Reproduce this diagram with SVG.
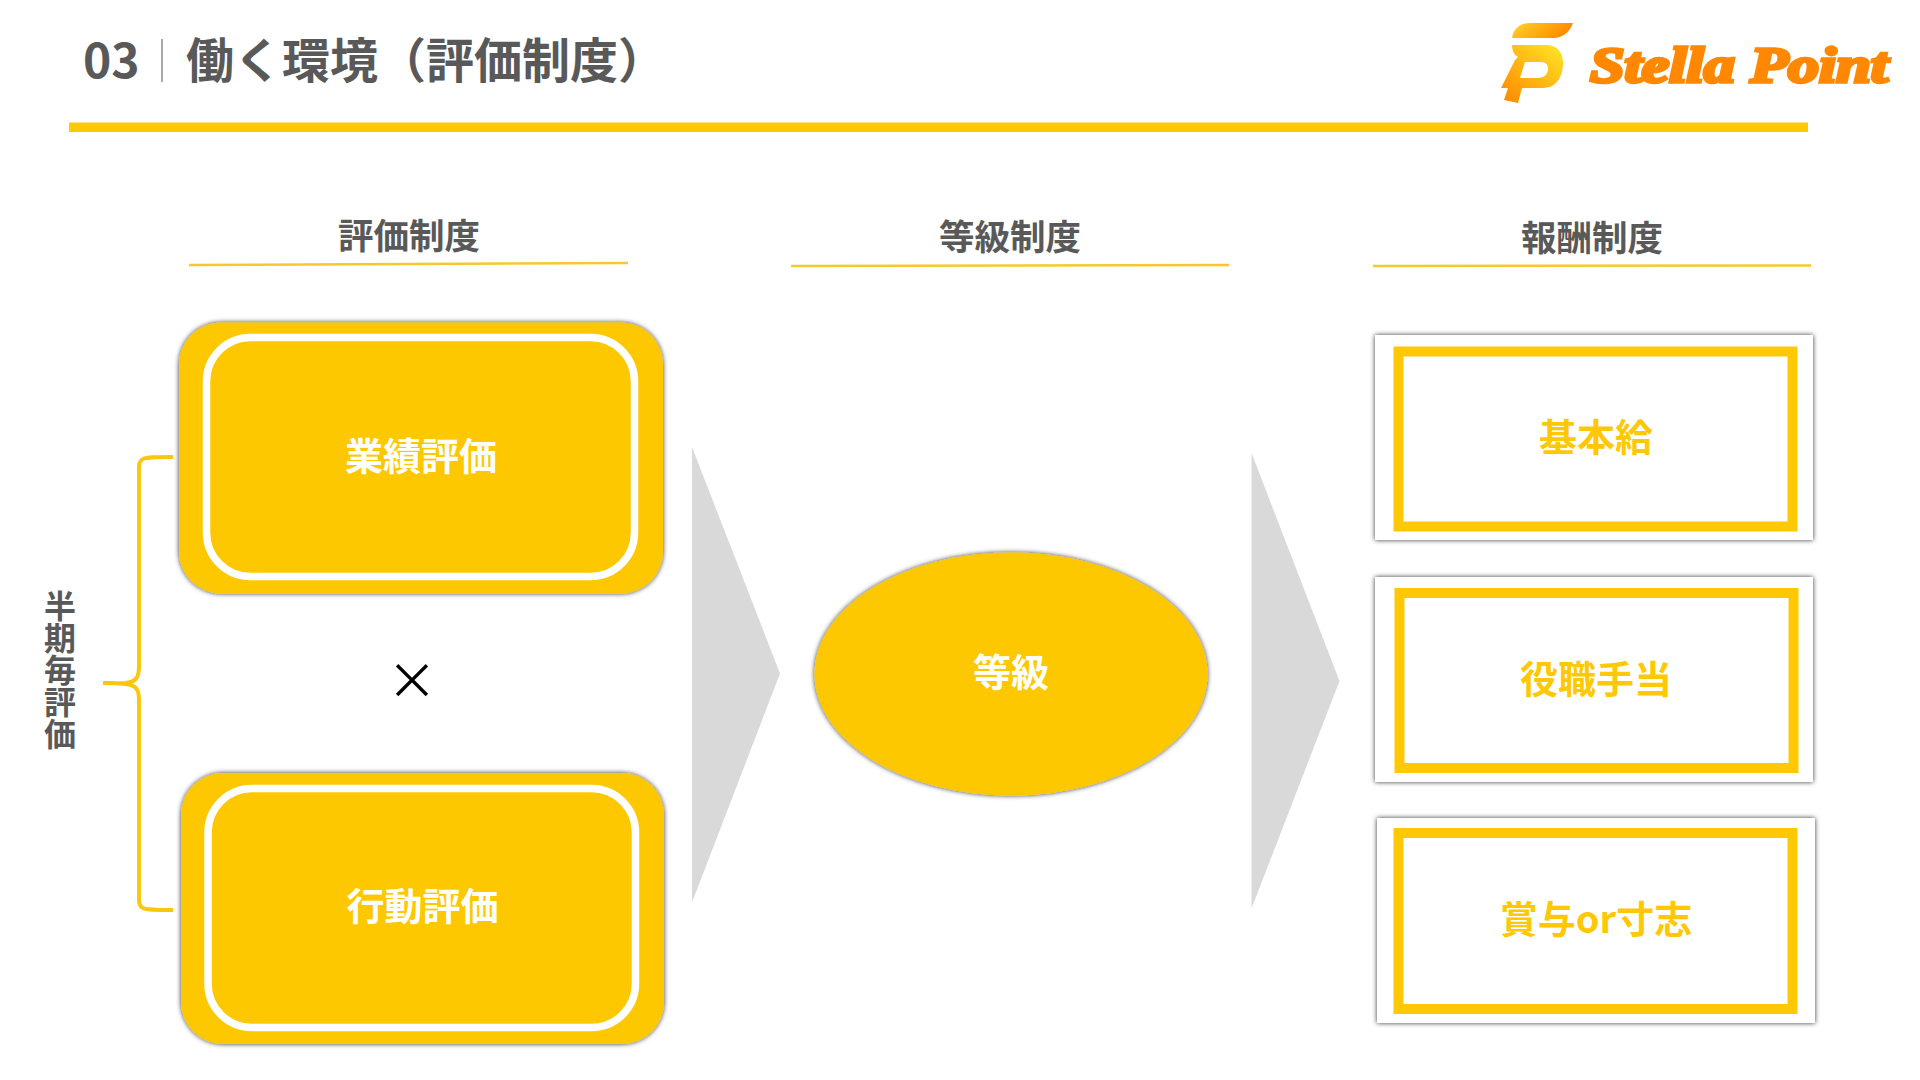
<svg xmlns="http://www.w3.org/2000/svg" width="1920" height="1080" viewBox="0 0 1920 1080">
<style>
text{font-family:"Noto Sans CJK JP","Noto Sans",sans-serif;font-weight:700}
.ttl{font-size:48px;fill:#595959}
.hd{font-size:35.500px;fill:#595959;text-anchor:middle}
.ul{stroke:#F5C92E;stroke-width:2.500;fill:none}
.y{fill:#FEC804}
.w{fill:#fff;font-size:38px;text-anchor:middle}
.o{fill:#FEC804;font-size:38px;text-anchor:middle}
.ring{fill:none;stroke:#fff;stroke-width:7.500}
.frame{fill:#fff;stroke:#FEC804;stroke-width:10}
.tri{fill:#D9D9D9}
</style>
<defs>
<filter id="sh" x="-10%" y="-10%" width="120%" height="120%"><feDropShadow dx="0" dy="0" stdDeviation="2.500" flood-color="#000" flood-opacity="0.8"/></filter>
<linearGradient id="g1" x1="0" y1="0" x2="1" y2="0.3"><stop offset="0" stop-color="#FFD52A"/><stop offset="1" stop-color="#FF8A00"/></linearGradient>
<linearGradient id="g2" x1="0.1" y1="1" x2="0.9" y2="0.1"><stop offset="0" stop-color="#FF8A00"/><stop offset="1" stop-color="#FFDD22"/></linearGradient>
</defs>
<rect width="1920" height="1080" fill="#fff"/>
<g id="header">
<text x="83" y="78" class="ttl">03</text>
<line x1="162" y1="39" x2="162" y2="82" stroke="#8c8c8c" stroke-width="1.500"/>
<text x="186" y="78" class="ttl">働く環境（評価制度）</text>
<rect x="69" y="122.500" width="1739" height="9.500" class="y"/>
</g>
<g id="logo">
<path d="M1512 38C1513 29 1520 23 1530 23H1573C1570 31 1564 38 1553 38Z" fill="url(#g1)"/>
<path fill-rule="evenodd" fill="url(#g2)" d="M1512 45H1546C1557 45 1564 53 1563 65C1562 79 1555 88 1543 88H1522L1518 103L1504 100L1508 88H1501L1515 60L1518 57C1514 55 1512 50 1512 45ZM1525 62L1520 78H1538C1544 78 1548 74 1548 69C1548 64 1545 62 1541 62Z"/>
<text x="1590" y="82" font-size="50" textLength="298" lengthAdjust="spacingAndGlyphs" style="font-family:'Liberation Serif',serif;font-weight:700;font-style:italic;fill:#FF8800;stroke:#FF8800;stroke-width:3.500px">Stella Point</text>
</g>
<g id="col-heads">
<text x="409" y="249" class="hd">評価制度</text>
<path d="M189 265L628 263" class="ul"/>
<text x="1010" y="250" class="hd">等級制度</text>
<path d="M791 266L1229 265" class="ul"/>
<text x="1592" y="251" class="hd">報酬制度</text>
<path d="M1373 266L1811 265.500" class="ul"/>
</g>
<g id="connectors">
<path d="M173 457C155 457 147 457 143 459C139 461 139 464 139 470V666C139 678 136 682 125 683C116 683.500 110 683 103 683C110 683 116 683 125 684C136 685 139 689 139 700V897C139 903 139 906 143 908C147 910 155 910 173 910" fill="none" stroke="#F9C80E" stroke-width="4"/>
<polygon points="692,447 780,673.500 692,902.500" class="tri"/>
<polygon points="1251.500,453 1339.500,681 1251.500,908.500" class="tri"/>
</g>
<g id="side-label">
<text x="60" y="589.500" style="writing-mode:vertical-rl;font-size:32px;fill:#595959;text-anchor:start">半期毎評価</text>
</g>
<g id="node-gyoseki">
<rect x="179" y="322.500" width="484" height="271" rx="42" class="y" filter="url(#sh)"/>
<rect x="206.500" y="337.500" width="428" height="239" rx="44" class="ring"/>
<text x="421" y="469.500" class="w">業績評価</text>
</g>
<g id="kakeru"><text x="412" y="699" style="font-size:50px;font-weight:400;fill:#000;text-anchor:middle">×</text></g>
<g id="node-kodo">
<rect x="181" y="773" width="483" height="271" rx="42" class="y" filter="url(#sh)"/>
<rect x="208" y="788.500" width="427.500" height="239" rx="44" class="ring"/>
<text x="422.500" y="920" class="w">行動評価</text>
</g>
<g id="node-tokyu">
<ellipse cx="1011" cy="674" rx="196.500" ry="121.500" class="y" filter="url(#sh)"/>
<text x="1011" y="686" class="w">等級</text>
</g>
<g id="node-kihonkyu">
<rect x="1375" y="335" width="438" height="205" fill="#fff" filter="url(#sh)"/>
<rect x="1398.500" y="351.500" width="394" height="175" class="frame"/>
<text x="1596" y="450.500" class="o">基本給</text>
</g>
<g id="node-yakushoku">
<rect x="1375" y="577" width="438" height="205" fill="#fff" filter="url(#sh)"/>
<rect x="1399.500" y="593" width="394" height="175" class="frame"/>
<text x="1596" y="693" class="o">役職手当</text>
</g>
<g id="node-shoyo">
<rect x="1377" y="818" width="438" height="205" fill="#fff" filter="url(#sh)"/>
<rect x="1398.500" y="833" width="394" height="176" class="frame"/>
<text x="1596" y="933" class="o">賞与or寸志</text>
</g>
</svg>
